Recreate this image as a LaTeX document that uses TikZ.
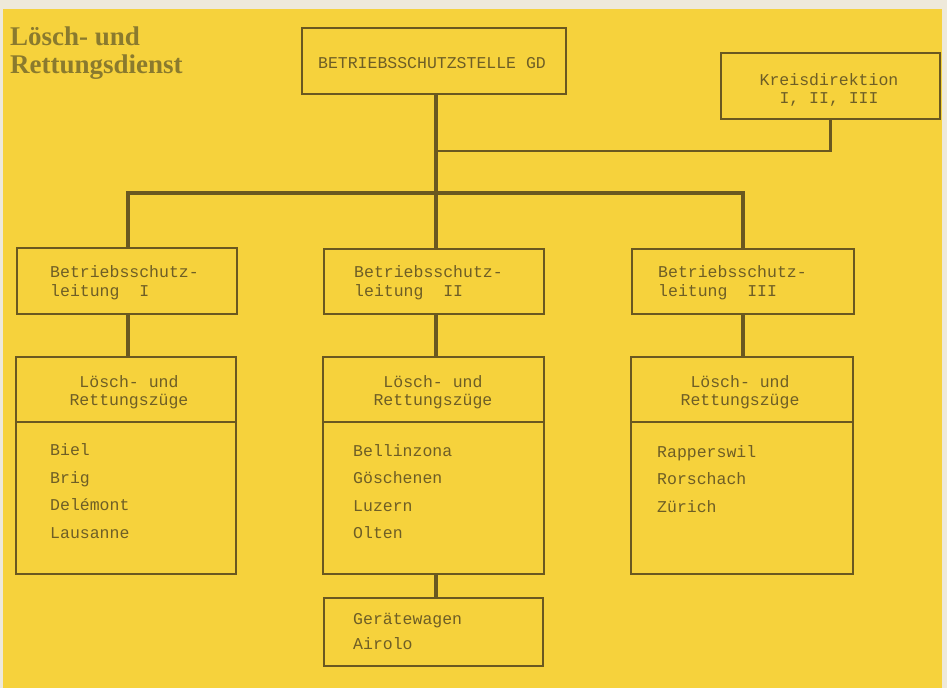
\documentclass[tikz,border=0pt]{standalone}
\usepackage{fontspec}
\setmainfont{Liberation Serif}
\newfontfamily\tw{Liberation Mono}
\definecolor{bg}{HTML}{F6D23C}
\definecolor{ink}{HTML}{6A5820}
\definecolor{txt}{HTML}{6E5E26}
\definecolor{ttl}{HTML}{8A7A2E}
\definecolor{paper}{HTML}{EEE9DA}
\begin{document}
\begin{tikzpicture}[x=1pt,y=-1pt,
 box/.style={draw=ink, line width=2pt, inner sep=0pt, anchor=north west},
 lbl/.style={anchor=base west, inner sep=0pt, text=txt, font=\tw\fontsize{16.5}{18}\selectfont},
 clbl/.style={lbl, anchor=base},
 conn/.style={draw=ink, line width=3.8pt},
 thinconn/.style={draw=ink, line width=2.2pt},
 ttlstyle/.style={anchor=base west, inner sep=0pt, text=ttl, font=\bfseries\fontsize{27}{30}\selectfont}]
\fill[paper] (0,0) rectangle (947,688);
\fill[bg] (3,9) rectangle (942,688);
\useasboundingbox (0,0) rectangle (947,688);

% title
\node[ttlstyle] (title1) at (10,45) {Lösch- und};
\node[ttlstyle] (title2) at (10,73) {Rettungsdienst};

% boxes
\node[box, minimum width=264pt, minimum height=66pt] (top) at (301,27) {};
\node[box, minimum width=219pt, minimum height=66pt] (kd) at (720,52) {};
\node[box, minimum width=220pt, minimum height=66pt] (l1) at (16,247) {};
\node[box, minimum width=220pt, minimum height=65pt] (l2) at (323,248) {};
\node[box, minimum width=222pt, minimum height=65pt] (l3) at (631,248) {};
\node[box, minimum width=220pt, minimum height=217pt] (z1) at (15,356) {};
\node[box, minimum width=221pt, minimum height=217pt] (z2) at (322,356) {};
\node[box, minimum width=222pt, minimum height=217pt] (z3) at (630,356) {};
\node[box, minimum width=219pt, minimum height=68pt] (gw) at (323,597) {};

% dividers
\draw[thinconn] (z1.north west) ++(0,66) -- ++(220,0);
\draw[thinconn] (z2.north west) ++(0,66) -- ++(221,0);
\draw[thinconn] (z3.north west) ++(0,66) -- ++(222,0);

% connectors
\coordinate (busL) at (128,193);
\coordinate (busM) at (436,193);
\coordinate (busR) at (743,193);
\coordinate (kj) at (436,151);
\draw[conn] (busL |- l1.north) -- (busL) -- (busR) -- (busR |- l3.north);
\draw[conn] (busM |- top.south) -- (busM |- l2.north);
\draw[thinconn] (kd.south) |- (kj);
\draw[conn] (l1.south -| busL) -- (busL |- z1.north);
\draw[conn] (l2.south -| busM) -- (busM |- z2.north);
\draw[conn] (l3.south -| busR) -- (busR |- z3.north);
\draw[conn] (z2.south -| busM) -- (busM |- gw.north);

% texts
\node[clbl] (ttop) at (432,68) {BETRIEBSSCHUTZSTELLE~GD};
\node[clbl] (tkd1) at (829,85) {Kreisdirektion};
\node[clbl] (tkd2) at (829,103) {I,~II,~III};

\node[lbl] (t1a) at (50,277) {Betriebsschutz-};
\node[lbl] (t1b) at (50,296) {leitung~~I};
\node[lbl] (t2a) at (354,277) {Betriebsschutz-};
\node[lbl] (t2b) at (354,296) {leitung~~II};
\node[lbl] (t3a) at (658,277) {Betriebsschutz-};
\node[lbl] (t3b) at (658,296) {leitung~~III};

\node[clbl] (h1a) at (129,387) {Lösch-~und};
\node[clbl] (h1b) at (129,405) {Rettungszüge};
\node[clbl] (h2a) at (433,387) {Lösch-~und};
\node[clbl] (h2b) at (433,405) {Rettungszüge};
\node[clbl] (h3a) at (740,387) {Lösch-~und};
\node[clbl] (h3b) at (740,405) {Rettungszüge};

\node[lbl] (a1) at (50,455) {Biel};
\node[lbl] (a2) at (50,483) {Brig};
\node[lbl] (a3) at (50,510) {Delémont};
\node[lbl] (a4) at (50,538) {Lausanne};

\node[lbl] (b1) at (353,456) {Bellinzona};
\node[lbl] (b2) at (353,483) {Göschenen};
\node[lbl] (b3) at (353,511) {Luzern};
\node[lbl] (b4) at (353,538) {Olten};

\node[lbl] (c1) at (657,457) {Rapperswil};
\node[lbl] (c2) at (657,484) {Rorschach};
\node[lbl] (c3) at (657,512) {Zürich};

\node[lbl] (g1) at (353,624) {Gerätewagen};
\node[lbl] (g2) at (353,649) {Airolo};
\end{tikzpicture}
\end{document}
